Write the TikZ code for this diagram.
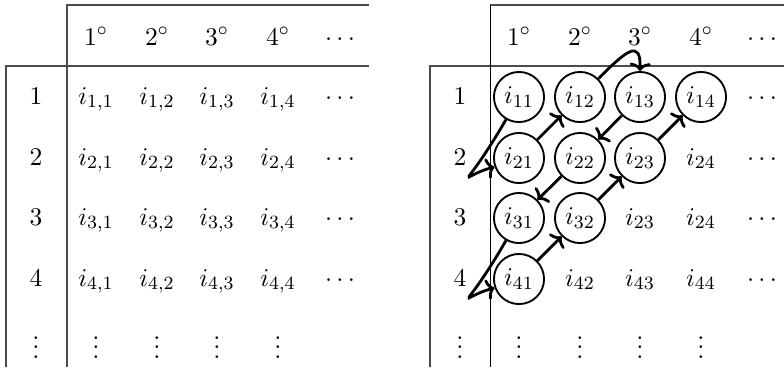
\documentclass[tikz,border=0pt]{standalone}
\usetikzlibrary{arrows.meta}
\begin{document}
\begin{tikzpicture}[x=0.429pt,y=-0.429pt,
  font=\fontsize{10.95}{13}\selectfont,
  rule/.style={draw=black!70,line width=0.5pt},
  cell/.style={anchor=base,inner sep=0pt},
  ring/.style={circle,draw,thick,minimum size=21.5pt,inner sep=0pt},
  flow/.style={very thick,-{To[length=3.5pt,width=9pt]}}]
\useasboundingbox (0,0) rectangle (784,367);
% ---------- left table ----------
\draw[rule] (67,367) -- (67,5) -- (369,5);
\draw[rule] (6,367) -- (6,66) -- (369,66);
\foreach \c/\x in {1/96,2/157,3/217,4/278}
  \node[cell] (Lh\c) at (\x,45) {$\c^\circ$};
\node[cell] (Lhd) at (340,45) {$\cdots$};
\foreach \r/\y in {1/104,2/165,3/225,4/286}{
  \node[cell] (Lr\r) at (36,\y) {$\r$};
  \foreach \c/\x in {1/96,2/157,3/217,4/278}
    \node[cell] (L\r\c) at (\x,\y) {$i_{\r,\c}$};
  \node[cell] (Ld\r) at (340,\y) {$\cdots$};
}
\foreach \k/\x in {0/36,1/96,2/157,3/217,4/278}
  \node[cell] (Lv\k) at (\x,358) {$\vdots$};
% ---------- right table ----------
\draw[rule] (430,367) -- (430,66) -- (784,66);
\draw[rule] (490,5) -- (784,5);
\draw[black,line width=0.4pt] (490,367) -- (490,5);
\foreach \c/\x in {1/519,2/580,3/640,4/701}
  \node[cell] (Rh\c) at (\x,45) {$\c^\circ$};
\node[cell] (Rhd) at (762,45) {$\cdots$};
\foreach \r/\y in {1/104,2/165,3/225,4/286}{
  \node[cell] (Rr\r) at (460,\y) {$\r$};
  \node[cell] (Rd\r) at (762,\y) {$\cdots$};
}
\foreach \k/\x in {0/460,1/519,2/580,3/640,4/701}
  \node[cell] (Rv\k) at (\x,358) {$\vdots$};
% circled entries
\node[ring] (R11) at (519,97) {$i_{11}$};
\node[ring] (R12) at (580,97) {$i_{12}$};
\node[ring] (R13) at (640,97) {$i_{13}$};
\node[ring] (R14) at (701,97) {$i_{14}$};
\node[ring] (R21) at (519,158) {$i_{21}$};
\node[ring] (R22) at (580,158) {$i_{22}$};
\node[ring] (R23) at (640,158) {$i_{23}$};
\node[ring] (R31) at (519,218) {$i_{31}$};
\node[ring] (R32) at (580,218) {$i_{32}$};
\node[ring] (R41) at (519,279) {$i_{41}$};
% plain entries
\node[cell] (R24) at (701,165) {$i_{24}$};
\node[cell] (R33) at (640,225) {$i_{23}$};
\node[cell] (R34) at (701,225) {$i_{24}$};
\node[cell] (R42) at (580,286) {$i_{42}$};
\node[cell] (R43) at (640,286) {$i_{43}$};
\node[cell] (R44) at (701,286) {$i_{44}$};
% diagonal path
\draw[flow] (R11.240) .. controls (461.5,196.5) and (456.9,177) .. (R21.200);
\draw[flow] (R21) -- (R12);
\draw[flow] (R12.45) .. controls (626,51) and (641,38) .. (R13.north);
\draw[flow] (R13) -- (R22);
\draw[flow] (R22) -- (R31);
\draw[flow] (R31.240) .. controls (461.5,317.5) and (456.9,298) .. (R41.200);
\draw[flow] (R41) -- (R32);
\draw[flow] (R32) -- (R23);
\draw[flow] (R23) -- (R14);
\end{tikzpicture}
\end{document}
